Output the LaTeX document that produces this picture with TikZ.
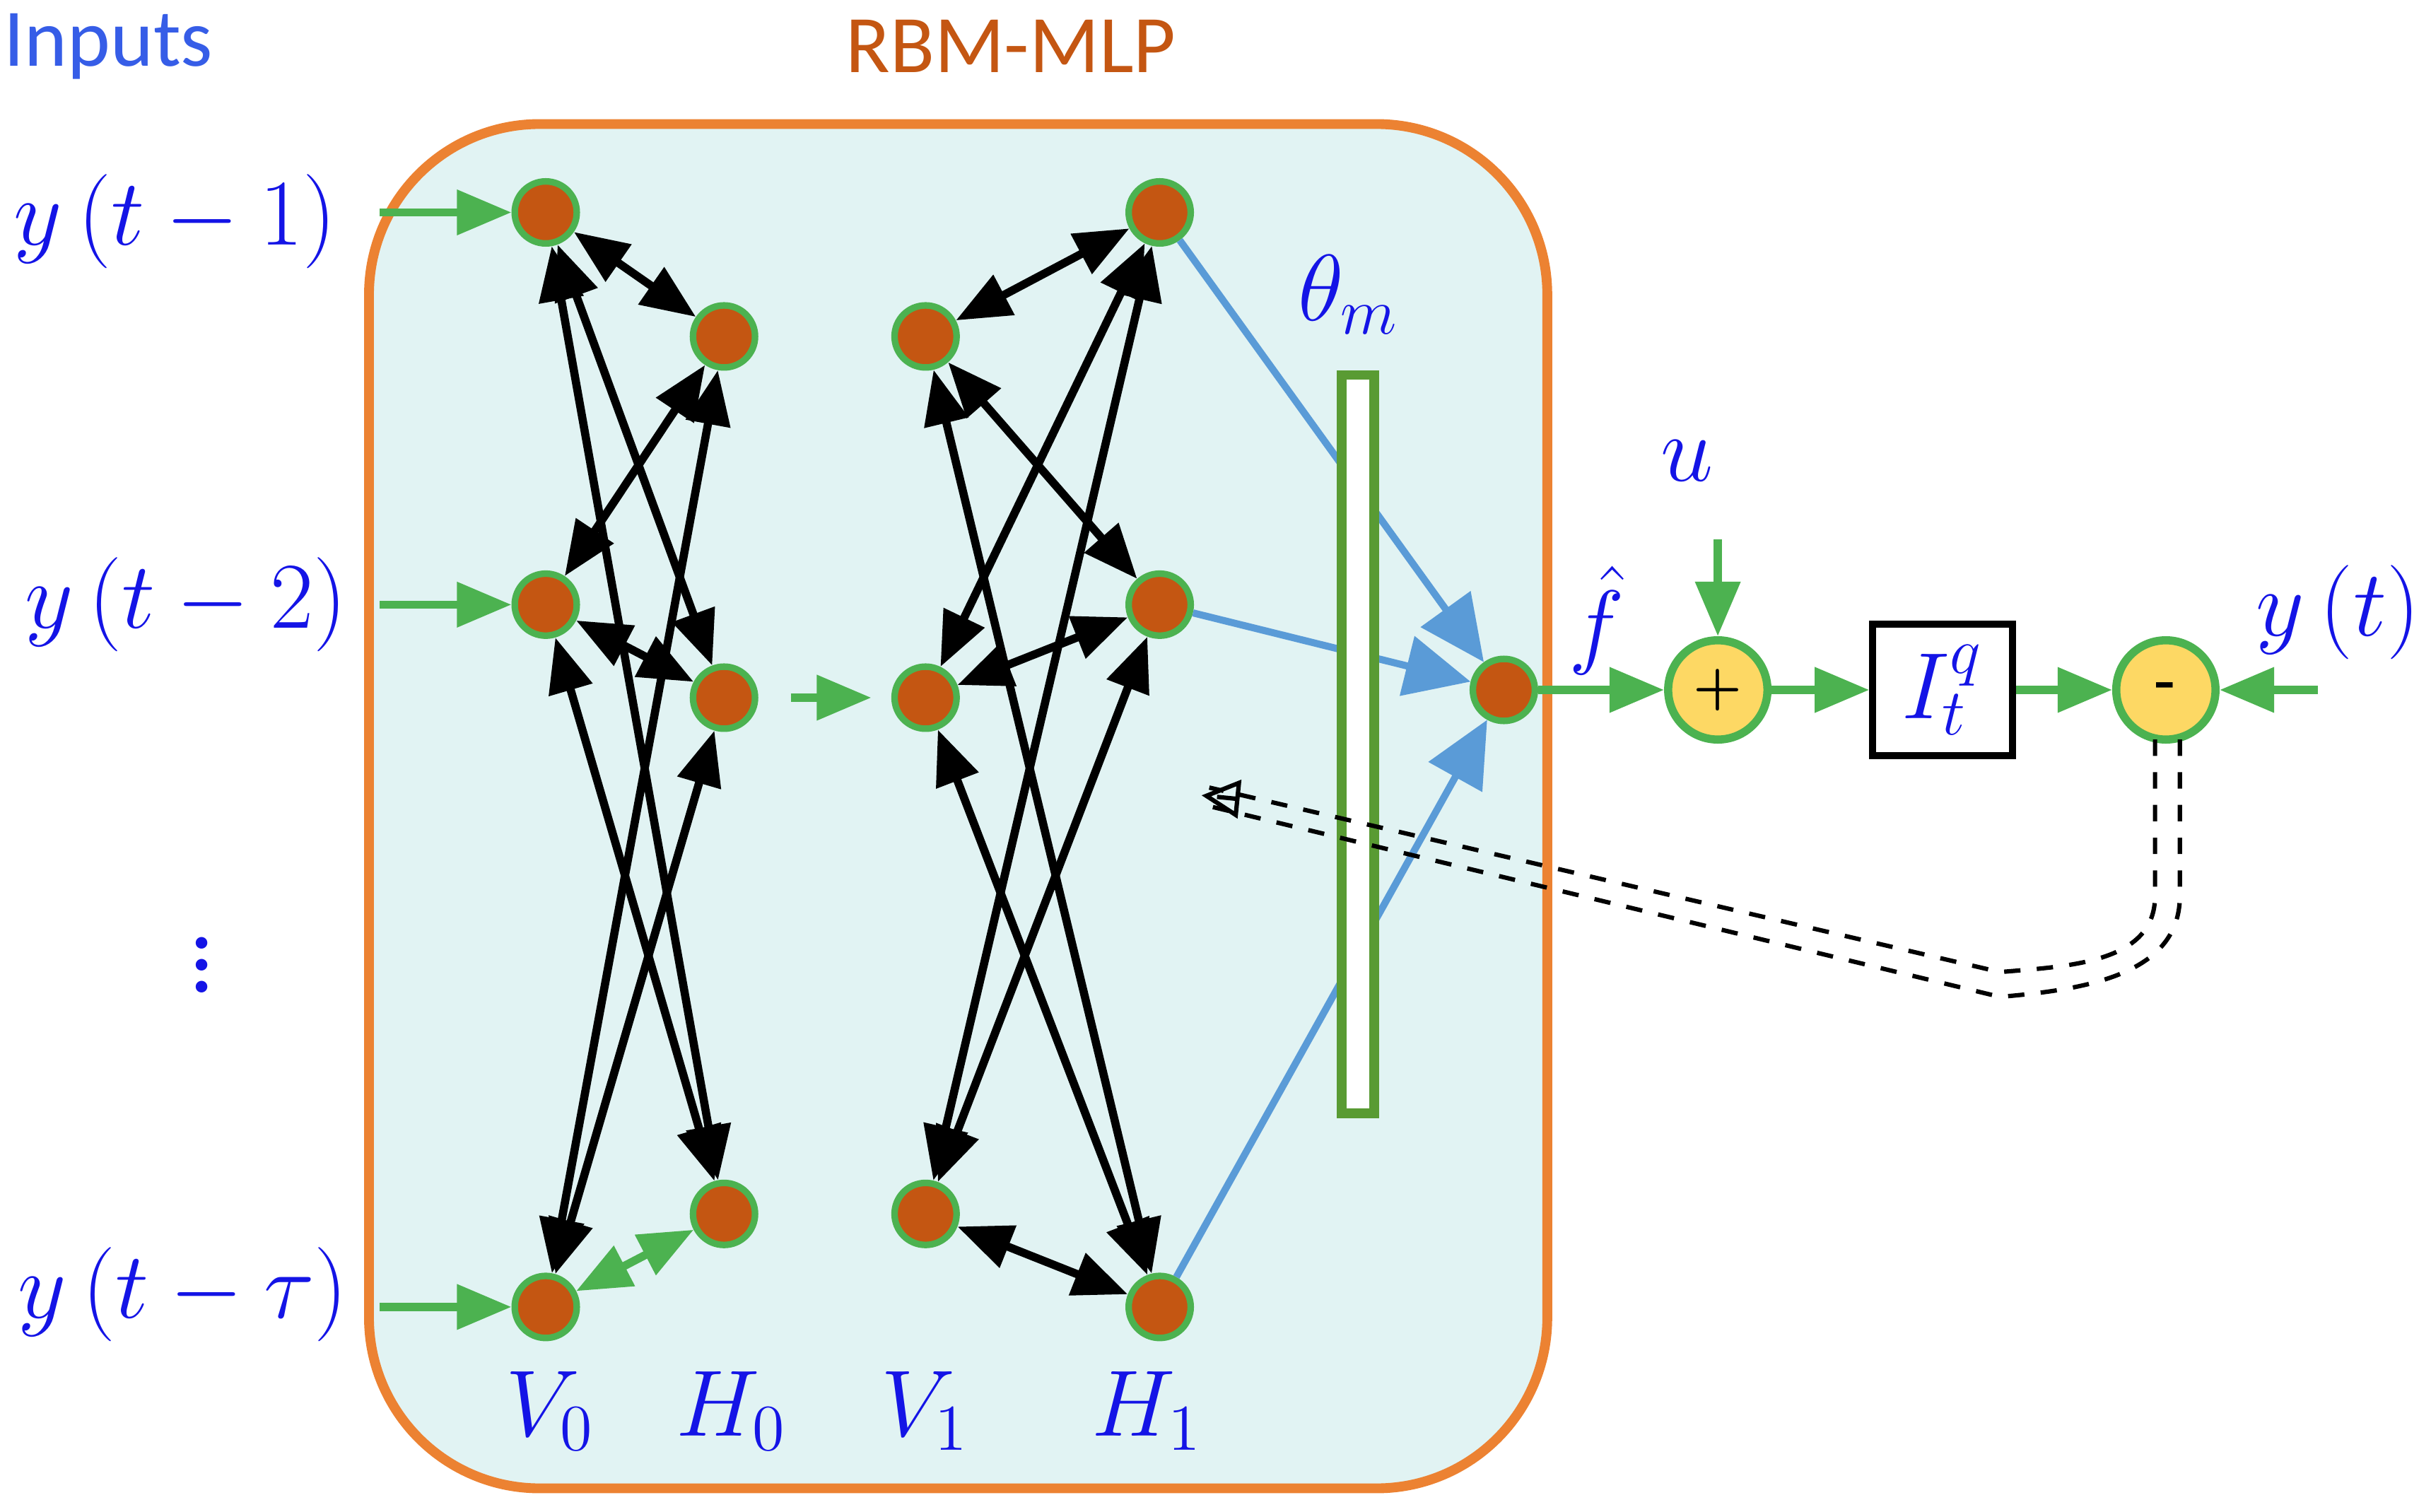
\documentclass[tikz,border=0pt]{standalone}
\usepackage{fontspec}
\newfontfamily\carl{Carlito}
\usetikzlibrary{arrows.meta}
\definecolor{gr}{RGB}{76,178,80}
\definecolor{nodeor}{RGB}{196,86,18}
\definecolor{bord}{RGB}{236,130,50}
\definecolor{bgc}{RGB}{225,243,243}
\definecolor{bl}{RGB}{20,20,230}
\definecolor{lbl}{RGB}{90,155,215}
\definecolor{yel}{RGB}{253,216,100}
\begin{document}
\begin{tikzpicture}[x=0.01cm,y=-0.01cm,
 tip/.tip={Triangle[length=10pt,width=8pt]},
 neu/.style={circle,fill=nodeor,draw=gr,line width=1.2pt,minimum size=0.4cm,inner sep=0},
 garr/.style={-tip,draw=gr,fill=gr,line width=1.5pt},
 barr/.style={tip-tip,line width=1.5pt},
 lab/.style={text=bl,font=\fontsize{17}{20}\selectfont},
 sum/.style={circle,fill=yel,draw=gr,line width=1.5pt,minimum size=0.64cm,inner sep=0}]
\useasboundingbox (0,0) rectangle (1568,975);
\draw[bord,fill=bgc,line width=1.8pt,rounded corners=1.1cm] (238,80) rectangle (998,960);
\node[font=\carl\fontsize{15}{18}\selectfont,text=lbl!60!blue] (inp) at (70,30) {Inputs};
\node[font=\carl\fontsize{15}{18}\selectfont,text=nodeor] (rbm) at (652,30) {RBM-MLP};
\foreach \n/\x/\y in {v1/352/137,v2/352/390,v3/352/843,h1/467/217,h2/467/450,h3/467/783,
  w1/597/217,w2/597/450,w3/597/783,k1/748/137,k2/748/390,k3/748/843}
  \node[neu] (\n) at (\x,\y) {};
\node[neu] (out) at (970,445) {};
\foreach \a/\b in {v1/h1,v1/h2,v1/h3,v2/h1,v2/h2,v2/h3,v3/h1,v3/h2,
  w1/k1,w1/k2,w1/k3,w2/k1,w2/k2,w2/k3,w3/k1,w3/k2,w3/k3}
  \draw[barr] (\a) -- (\b);
\draw[barr,color=gr] (v3) -- (h3);
\node[lab] (y1) at (113,143) {$y\left(t-1\right)$};
\node[lab] (y2) at (120,390) {$y\left(t-2\right)$};
\node[lab,font=\fontsize{26}{30}\selectfont] (yd) at (130,612) {$\vdots$};
\node[lab] (y3) at (118,835) {$y\left(t-\tau\right)$};
\coordinate (i1) at (245,137);\coordinate (i2) at (245,390);\coordinate (i3) at (245,843);
\draw[garr] (i1) -- (v1);\draw[garr] (i2) -- (v2);\draw[garr] (i3) -- (v3);
\coordinate (m1) at (510,450);\coordinate (m2) at (562,450);
\draw[garr] (m1) -- (m2);
\node[lab] (l1) at (355,910) {$V_0$};
\node[lab] (l2) at (472,910) {$H_0$};
\node[lab] (l3) at (597,910) {$V_1$};
\node[lab] (l4) at (740,910) {$H_1$};
\foreach \k in {k1,k2,k3}
 \draw[lbl,fill=lbl,line width=1.3pt,-{Triangle[length=12pt,width=11pt]}] (\k) -- (out);
\node[draw=gr!80!yellow!80!black,fill=white,line width=1.8pt,minimum width=0.21cm,minimum height=4.76cm,inner sep=0] (bar) at (876,480) {};
\node[lab] (th) at (870,190) {$\theta_m$};
\node[sum] (plus) at (1108,445) {\textbf{+}};
\node[draw,line width=1.3pt,minimum width=0.9cm,minimum height=0.85cm,fill=white,lab] (I) at (1253,445) {$I_t^q$};
\node[sum] (minus) at (1397,445) {\textbf{-}};
\node[lab] (u) at (1088,297) {$u$};
\node[lab] (fh) at (1030,400) {$\hat f$};
\node[lab] (yt) at (1508,395) {$y\left(t\right)$};
\coordinate (ut) at (1108,348);\coordinate (yr) at (1495,445);
\draw[garr] (out) -- (plus);\draw[garr] (ut) -- (plus);
\draw[garr] (plus) -- (I);\draw[garr] (I) -- (minus);\draw[garr] (yr) -- (minus);
\coordinate (fb) at (775,513);
\coordinate (fa) at (1390,477);\coordinate (fc) at (1406,477);
\draw[dashed,line width=0.8pt] (fa) -- (1390,578) to[out=-90,in=5] (1290,627) -- (780,508);
\draw[dashed,line width=0.8pt] (fc) -- (1406,578) to[out=-90,in=5] (1290,643) -- (780,520);
\draw[line width=0.8pt,-{Triangle[open,length=7pt,width=7pt]}] (785,514) -- (fb);
\end{tikzpicture}
\end{document}
